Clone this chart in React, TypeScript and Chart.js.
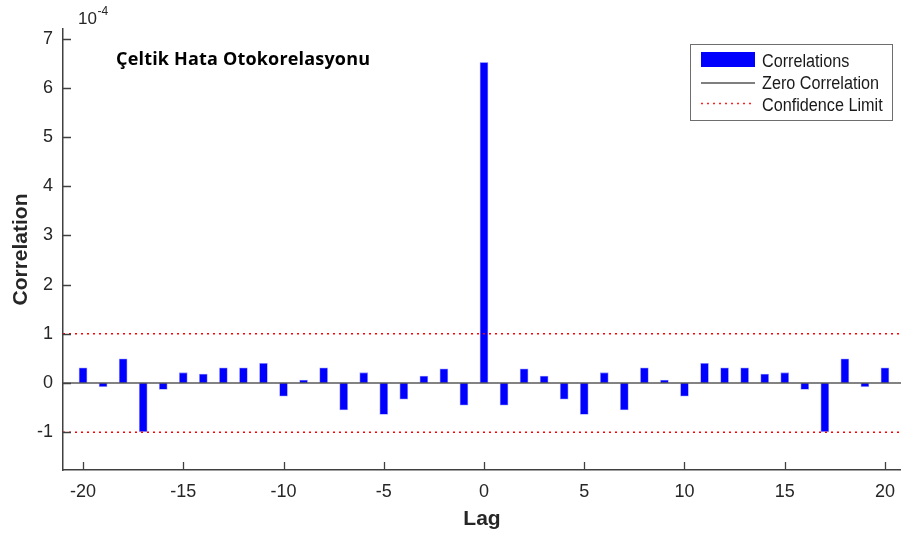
import React, { useEffect, useRef } from "react";
import { Chart, registerables } from "chart.js";

Chart.register(...registerables);

// ---- data (values in units of 1e-4) ----
const lags = [
  -20, -19, -18, -17, -16, -15, -14, -13, -12, -11, -10, -9, -8, -7, -6, -5, -4, -3, -2, -1,
  0, 1, 2, 3, 4, 5, 6, 7, 8, 9, 10, 11, 12, 13, 14, 15, 16, 17, 18, 19, 20,
];
const correlations = [
  0.31, -0.075, 0.49, -0.99, -0.13, 0.21, 0.18, 0.31, 0.31, 0.4, -0.27, 0.06, 0.31, -0.55, 0.21,
  -0.64, -0.33, 0.14, 0.29, -0.45, 6.52, -0.45, 0.29, 0.14, -0.33, -0.64, 0.21, -0.55, 0.31, 0.06,
  -0.27, 0.4, 0.31, 0.31, 0.18, 0.21, -0.13, -0.99, 0.49, -0.075, 0.31,
];
const confidenceLimit = 1.0;
const xTicks = [-20, -15, -10, -5, 0, 5, 10, 15, 20];
const yTicks = [-1, 0, 1, 2, 3, 4, 5, 6, 7];
const xRange = [-21, 20.8];
const yRange = [-1.77, 7.2];
const chartTitle = "Çeltik Hata Otokorelasyonu";
const exponentBase = "10";
const exponentPower = "-4";
const legendLabels = ["Correlations", "Zero Correlation", "Confidence Limit"];
const xTitle = "Lag";
const yTitle = "Correlation";

const FONT = "'Liberation Sans', Arial, sans-serif";
const AXIS_COLOR = "#404040";

const decorPlugin = {
  id: "decor",
  afterDraw(chart: any) {
    const ctx = chart.ctx as CanvasRenderingContext2D;
    const xs = chart.scales.x;
    const ys = chart.scales.y;
    const area = chart.chartArea;
    ctx.save();
    // inward tick marks
    ctx.strokeStyle = AXIS_COLOR;
    ctx.lineWidth = 1.3;
    ctx.beginPath();
    for (const v of yTicks) {
      const py = Math.round(ys.getPixelForValue(v)) + 0.5;
      ctx.moveTo(area.left, py);
      ctx.lineTo(area.left + 8, py);
    }
    for (const v of xTicks) {
      const px = Math.round(xs.getPixelForValue(v)) + 0.5;
      ctx.moveTo(px, area.bottom);
      ctx.lineTo(px, area.bottom - 8);
    }
    ctx.stroke();

    // exponent label
    ctx.fillStyle = "#262626";
    ctx.textBaseline = "alphabetic";
    ctx.textAlign = "left";
    ctx.font = `17px ${FONT}`;
    ctx.fillText(exponentBase, 78, 24);
    const w = ctx.measureText(exponentBase).width;
    ctx.font = `12px ${FONT}`;
    ctx.fillText(exponentPower, 78 + w + 0.5, 15);

    // title
    ctx.fillStyle = "#000000";
    ctx.font = `bold 18px 'Open Sans', Lato, sans-serif`;
    const tw = ctx.measureText(chartTitle).width;
    const target = 254;
    const n = Array.from(chartTitle).length;
    (ctx as any).letterSpacing = `${((target - tw) / (n - 1)).toFixed(2)}px`;
    ctx.fillText(chartTitle, 116, 65);
    (ctx as any).letterSpacing = "0px";

    // legend box
    const lx = 690, ly = 44, lw = 202, lh = 76;
    ctx.fillStyle = "#ffffff";
    ctx.fillRect(lx, ly, lw, lh);
    ctx.strokeStyle = "#6e6e6e";
    ctx.lineWidth = 1;
    ctx.strokeRect(lx + 0.5, ly + 0.5, lw, lh);

    ctx.fillStyle = "#0000ff";
    ctx.fillRect(701, 52, 54, 15);

    ctx.strokeStyle = "#000000";
    ctx.lineWidth = 1.2;
    ctx.beginPath();
    ctx.moveTo(701, 83);
    ctx.lineTo(755, 83);
    ctx.stroke();

    ctx.strokeStyle = "#ff2020";
    ctx.lineWidth = 1.5;
    ctx.setLineDash([2, 4]);
    ctx.beginPath();
    ctx.moveTo(701, 103.5);
    ctx.lineTo(755, 103.5);
    ctx.stroke();
    ctx.setLineDash([]);

    // legend labels: tall, slightly condensed face
    ctx.fillStyle = "#1a1a1a";
    ctx.font = `18px ${FONT}`;
    ctx.textBaseline = "middle";
    const sx = 0.9;
    const rows = [62, 84, 106];
    legendLabels.forEach((t, i) => {
      ctx.save();
      ctx.translate(762, rows[i]);
      ctx.scale(sx, 1);
      ctx.fillText(t, 0, 0);
      ctx.restore();
    });
    ctx.restore();
  },
};

export default function App() {
  const canvasRef = useRef<HTMLCanvasElement | null>(null);

  useEffect(() => {
    if (!canvasRef.current) return;
    const barData = lags.map((l, i) => ({ x: l, y: correlations[i] }));
    const chart = new Chart(canvasRef.current, {
      type: "bar",
      data: {
        datasets: [
          {
            type: "line",
            label: "Zero Correlation",
            data: [
              { x: xRange[0], y: 0 },
              { x: xRange[1], y: 0 },
            ],
            borderColor: "#5a5a5a",
            borderWidth: 1.5,
            pointRadius: 0,
            order: 0,
          } as any,
          {
            type: "line",
            label: "Confidence Limit",
            data: [
              { x: xRange[0], y: confidenceLimit },
              { x: xRange[1], y: confidenceLimit },
            ],
            borderColor: "#ff0000",
            borderWidth: 1.5,
            borderDash: [2, 4],
            pointRadius: 0,
            order: 0,
          } as any,
          {
            type: "line",
            label: "Confidence Limit (lower)",
            data: [
              { x: xRange[0], y: -confidenceLimit },
              { x: xRange[1], y: -confidenceLimit },
            ],
            borderColor: "#ff0000",
            borderWidth: 1.5,
            borderDash: [2, 4],
            pointRadius: 0,
            order: 0,
          } as any,
          {
            type: "bar",
            label: "Correlations",
            data: barData,
            backgroundColor: "#0000ff",
            borderColor: "rgba(90,90,255,0.6)",
            borderWidth: 0.8,
            barThickness: 8,
            order: 1,
          } as any,
        ],
      },
      options: {
        animation: false,
        responsive: false,
        devicePixelRatio: 1,
        layout: { padding: { top: 29, left: 0, right: 0, bottom: 0 } },
        plugins: { legend: { display: false }, tooltip: { enabled: false }, title: { display: false } },
        scales: {
          x: {
            type: "linear",
            offset: false,
            min: xRange[0],
            max: xRange[1],
            afterBuildTicks: (s: any) => {
              s.ticks = xTicks.map((v) => ({ value: v }));
            },
            afterFit: (s: any) => {
              s.height = 69;
              s.paddingLeft = 0;
              s.paddingRight = 0;
            },
            grid: { display: false, drawTicks: false, offset: false },
            border: { display: true, color: AXIS_COLOR, width: 1.5 },
            ticks: {
              padding: 11,
              color: "#262626",
              font: { family: FONT, size: 18 },
              callback: (v: any) => String(v),
            },
            title: {
              display: true,
              text: xTitle,
              color: "#262626",
              font: { family: FONT, size: 21, weight: "bold" },
              padding: { top: 0, bottom: 7 },
            },
          },
          y: {
            type: "linear",
            min: yRange[0],
            max: yRange[1],
            afterBuildTicks: (s: any) => {
              s.ticks = yTicks.map((v) => ({ value: v }));
            },
            afterFit: (s: any) => {
              s.width = 63;
              s.paddingTop = 0;
              s.paddingBottom = 0;
            },
            grid: { display: false, drawTicks: false },
            border: { display: true, color: AXIS_COLOR, width: 1.5 },
            ticks: {
              padding: 10,
              color: "#262626",
              font: { family: FONT, size: 18 },
              callback: (v: any) => String(v),
            },
            title: {
              display: true,
              text: yTitle,
              color: "#262626",
              font: { family: FONT, size: 21, weight: "bold" },
              padding: { top: 9, bottom: 0 },
            },
          },
        },
      },
      plugins: [decorPlugin],
    } as any);
    return () => chart.destroy();
  }, []);

  return (
    <div style={{ position: "absolute", left: 0, top: 0, width: 901, height: 539, background: "#fff" }}>
      <canvas ref={canvasRef} width={901} height={539} style={{ display: "block" }} />
    </div>
  );
}
